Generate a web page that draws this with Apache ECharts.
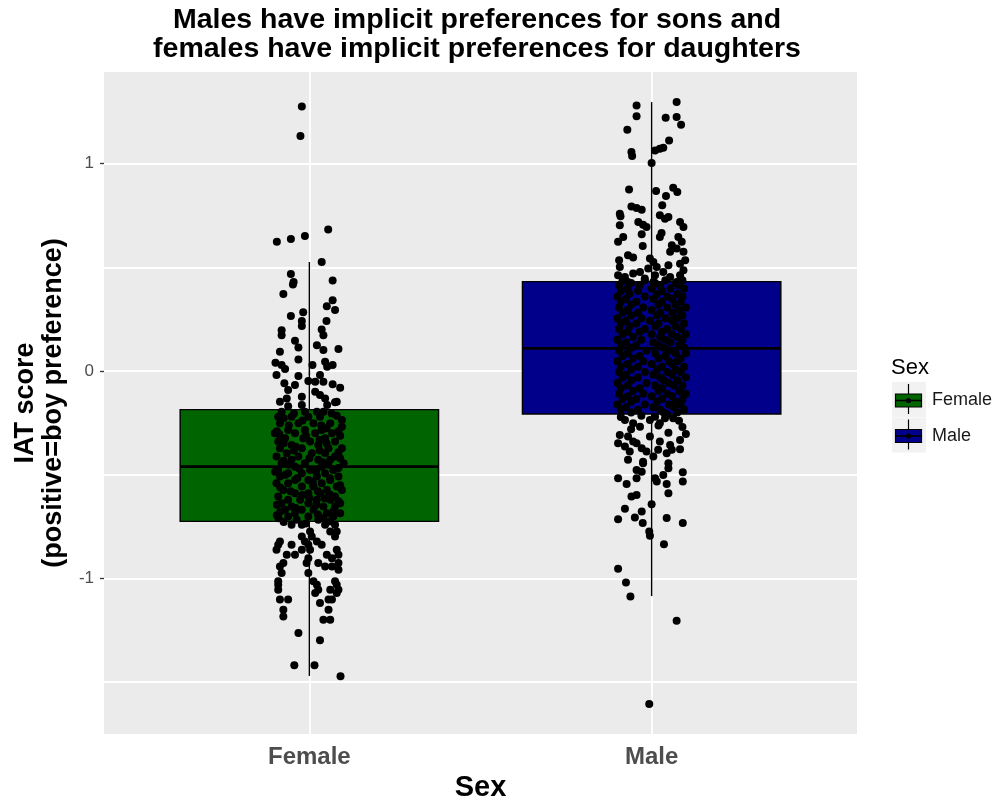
<!DOCTYPE html>
<html><head><meta charset="utf-8">
<script src="https://cdn.jsdelivr.net/npm/echarts@6/dist/echarts.min.js"></script>
<style>html,body{margin:0;padding:0;background:#fff}#c{width:1000px;height:802px}</style>
</head><body><div id="c"></div>
<script>
const categories = ['Female', 'Male'];
const boxColors = ['#006400', '#00008B'];
const yTicks = [-1, 0, 1];
const xTicks = [1, 2];
// low whisker, Q1, median, Q3, high whisker
const femaleBox = [-1.47, -0.725, -0.461, -0.186, 0.526];
const maleBox = [-1.085, -0.207, 0.109, 0.431, 1.297];
// [jitter offset, IAT score]
const femalePoints = [
[-0.022,1.276],[-0.026,1.133],[-0.095,0.623],[-0.054,0.637],[-0.013,0.651],[0.055,0.682],[0.036,0.526],[-0.054,0.468],[-0.046,0.430],[-0.048,0.417],[0.068,0.437],[-0.076,0.372],[0.068,0.342],[0.051,0.313],[0.075,0.294],[-0.018,0.284],[-0.054,0.266],[-0.022,0.241],[-0.022,0.217],[0.050,0.241],[-0.081,0.197],[-0.081,0.173],[0.036,0.201],[0.041,0.173],[-0.042,0.146],[-0.032,0.114],[0.022,0.125],[0.041,0.101],[0.085,0.106],[-0.086,0.093],[-0.032,0.056],[-0.099,0.040],[-0.081,0.029],[-0.071,0.010],[0.009,0.029],[0.046,0.045],[0.052,0.021],[0.068,0.029],[-0.096,-0.019],[-0.032,-0.024],[-0.003,-0.048],[0.017,-0.052],[0.031,-0.019],[0.041,-0.052],[-0.073,-0.059],[-0.042,-0.067],[0.068,-0.064],[0.090,-0.080],[-0.062,-0.091],[0.017,-0.100],[0.031,-0.116],[-0.086,-0.148],[-0.022,-0.124],[0.046,-0.132],[0.080,-0.148],[-0.066,-0.132],[-0.022,-0.164],[0.052,-0.164],
[0.075,-0.150],[-0.062,-0.170],
[-0.081,-0.196],[-0.013,-0.196],[0.022,-0.196],[0.041,-0.196],
[-0.045,-0.205],[0.065,-0.205],
[-0.091,-0.220],[-0.052,-0.220],[-0.003,-0.220],[0.031,-0.220],
[0.095,-0.236],
[-0.086,-0.252],[-0.032,-0.252],[0.012,-0.252],[0.061,-0.252],
[-0.060,-0.262],[0.035,-0.262],
[0.095,-0.268],
[-0.062,-0.284],[-0.013,-0.284],[0.036,-0.284],
[0.085,-0.290],[-0.095,-0.290],
[-0.101,-0.300],[-0.042,-0.300],[0.017,-0.300],[0.066,-0.300],
[-0.010,-0.312],[0.090,-0.312],
[-0.071,-0.324],[-0.018,-0.324],[0.046,-0.324],
[-0.091,-0.340],[0.002,-0.340],[0.075,-0.340],
[0.050,-0.348],[-0.075,-0.348],
[-0.052,-0.356],[0.026,-0.356],
[-0.086,-0.372],[-0.022,-0.372],[0.056,-0.372],[0.095,-0.372],
[-0.045,-0.383],[0.030,-0.383],
[-0.066,-0.396],[0.007,-0.396],[0.046,-0.396],
[-0.096,-0.412],[-0.032,-0.412],[0.075,-0.412],
[0.000,-0.420],[0.090,-0.420],
[-0.052,-0.428],[0.026,-0.428],[0.061,-0.428],
[-0.081,-0.445],[-0.013,-0.445],[0.100,-0.445],
[-0.060,-0.452],[0.055,-0.452],
[-0.042,-0.461],[0.036,-0.461],
[-0.091,-0.477],[0.002,-0.477],[0.070,-0.477],
[0.020,-0.485],[-0.100,-0.485],
[-0.062,-0.493],[-0.022,-0.493],[0.046,-0.493],
[-0.086,-0.509],[0.022,-0.509],[0.085,-0.509],
[-0.035,-0.517],[0.060,-0.517],
[-0.042,-0.525],[-0.003,-0.525],[0.061,-0.525],
[-0.096,-0.541],[-0.062,-0.541],[0.036,-0.541],
[0.010,-0.550],[0.090,-0.550],
[-0.022,-0.557],[0.012,-0.557],[0.080,-0.557],
[-0.076,-0.573],[0.051,-0.573],[0.095,-0.573],
[-0.055,-0.580],[0.025,-0.580],
[-0.042,-0.589],[-0.003,-0.589],[0.031,-0.589],
[-0.091,-0.605],[0.075,-0.605],
[0.000,-0.613],[0.045,-0.613],
[-0.062,-0.621],[-0.027,-0.621],[0.022,-0.621],[0.061,-0.621],
[-0.081,-0.637],[-0.003,-0.637],[0.090,-0.637],
[-0.095,-0.645],[0.020,-0.645],
[-0.052,-0.653],[0.041,-0.653],[0.075,-0.653],
[-0.071,-0.669],[-0.022,-0.669],[0.012,-0.669],
[0.070,-0.677],[-0.085,-0.677],
[-0.042,-0.685],[0.051,-0.685],[0.090,-0.685],
[-0.062,-0.701],[-0.003,-0.701],[0.070,-0.701],
[0.040,-0.710],[-0.090,-0.710],
[-0.037,-0.717],[0.026,-0.717],
[-0.075,-0.228],[0.080,-0.215],[-0.020,-0.238],[0.050,-0.276],[-0.088,-0.305],[0.030,-0.332],[-0.040,-0.365],[0.085,-0.392],[-0.075,-0.432],[0.040,-0.440],[-0.030,-0.470],[0.085,-0.468],[-0.070,-0.500],[0.010,-0.533],[-0.085,-0.562],[0.060,-0.595],[-0.020,-0.598],[0.085,-0.628],[-0.040,-0.660],[0.025,-0.692],[-0.095,-0.695],[0.060,-0.725],[-0.075,-0.728],[-0.010,-0.735],
[-0.052,-0.741],[-0.022,-0.741],[0.046,-0.741],[0.075,-0.741],
[0.002,-0.773],[0.061,-0.773],[0.080,-0.773],
[-0.022,-0.798],[0.007,-0.798],[0.075,-0.798],
[-0.086,-0.822],[-0.013,-0.822],[0.022,-0.822],
[-0.091,-0.838],[-0.052,-0.838],[-0.003,-0.838],[0.036,-0.838],
[-0.096,-0.862],[-0.022,-0.862],[0.002,-0.862],[0.080,-0.862],
[-0.066,-0.886],[-0.042,-0.886],[0.051,-0.886],[0.085,-0.886],
[-0.003,-0.902],[0.066,-0.902],
[-0.076,-0.926],[-0.008,-0.926],[0.026,-0.926],[0.085,-0.926],
[-0.086,-0.942],[0.046,-0.942],[0.066,-0.942],
[0.085,-0.958],
[-0.081,-0.974],[-0.003,-0.974],
[-0.091,-1.014],[0.012,-1.014],[0.075,-1.014],
[-0.091,-1.030],[0.022,-1.030],[0.080,-1.030],
[-0.091,-1.054],[0.026,-1.054],[0.061,-1.054],[0.085,-1.054],
[0.017,-1.070],[0.080,-1.070],
[-0.086,-1.102],[-0.062,-1.102],[0.056,-1.102],[0.066,-1.102],
[0.031,-1.118],
[-0.076,-1.151],[0.056,-1.151],
[-0.076,-1.183],
[0.041,-1.199],[0.061,-1.199],
[-0.032,-1.263],
[0.031,-1.298],
[-0.044,-1.419],[0.015,-1.419],
[0.091,-1.472]
];
const malePoints = [
[-0.044,1.281],[0.073,1.297],[-0.044,1.229],[0.041,1.221],[0.073,1.225],[0.086,1.188],[-0.071,1.164],[0.051,1.112],[-0.059,1.056],[-0.057,1.037],[0.010,1.064],[0.024,1.072],[0.034,1.077],[0.000,1.003],
[-0.066,0.876],[0.013,0.868],[0.042,0.844],[0.063,0.884],[0.075,0.863],[0.031,0.799],[-0.059,0.794],[-0.044,0.786],[-0.029,0.778],[-0.093,0.759],[-0.091,0.746],[0.024,0.751],[0.039,0.735],[0.049,0.743],[-0.093,0.703],[-0.039,0.719],[-0.025,0.706],[-0.015,0.695],[0.083,0.719],[0.093,0.695],[-0.083,0.647],[-0.029,0.660],[0.024,0.647],[0.029,0.666],[0.078,0.647],[0.088,0.623],[0.059,0.607],[0.073,0.591],[0.054,0.575],[0.093,0.575],[-0.098,0.623],[-0.026,0.603],[-0.069,0.559],[-0.054,0.547],[-0.095,0.534],[-0.093,0.502],[-0.005,0.543],[0.005,0.526],[-0.010,0.494],[0.015,0.502],[0.049,0.510],[0.083,0.518],[0.098,0.534],[-0.098,0.462],[-0.078,0.454],[-0.054,0.470],[-0.034,0.478],[-0.020,0.446],[0.010,0.462],[0.034,0.478],[0.054,0.454],[0.083,0.462],[0.093,0.486],[-0.069,0.430],[0.005,0.430],[0.073,0.430],
[-0.085,0.438],[-0.020,0.438],[0.040,0.438],[0.090,0.438],
[-0.060,0.425],[0.010,0.425],[0.070,0.425],
[-0.095,0.412],[-0.035,0.412],[0.025,0.412],[0.080,0.412],
[-0.070,0.398],[0.000,0.398],[0.055,0.398],[0.095,0.398],
[-0.090,0.386],[-0.040,0.386],[0.030,0.386],
[-0.065,0.372],[0.015,0.372],[0.075,0.372],
[-0.100,0.360],[-0.020,0.360],[0.045,0.360],[0.090,0.360],
[-0.075,0.347],[0.005,0.347],[0.060,0.347],
[-0.090,0.334],[-0.045,0.334],[0.030,0.334],[0.085,0.334],
[-0.060,0.320],[0.020,0.320],[0.070,0.320],
[-0.095,0.307],[-0.025,0.307],[0.045,0.307],[0.100,0.307],
[-0.070,0.294],[0.000,0.294],[0.080,0.294],
[-0.085,0.281],[-0.040,0.281],[0.025,0.281],[0.060,0.281],
[-0.060,0.268],[0.015,0.268],[0.090,0.268],
[-0.100,0.255],[-0.030,0.255],[0.040,0.255],[0.075,0.255],
[-0.075,0.242],[-0.005,0.242],[0.060,0.242],
[-0.090,0.229],[-0.045,0.229],[0.020,0.229],[0.095,0.229],
[-0.065,0.216],[0.010,0.216],[0.070,0.216],
[-0.095,0.203],[-0.020,0.203],[0.045,0.203],[0.085,0.203],
[-0.070,0.190],[-0.035,0.190],[0.030,0.190],
[-0.085,0.177],[0.000,0.177],[0.060,0.177],[0.100,0.177],
[-0.055,0.164],[0.025,0.164],[0.075,0.164],
[-0.100,0.151],[-0.030,0.151],[0.040,0.151],[0.090,0.151],
[-0.075,0.138],[0.005,0.138],[0.055,0.138],
[-0.090,0.125],[-0.045,0.125],[0.020,0.125],[0.080,0.125],
[-0.060,0.112],[0.035,0.112],[0.095,0.112],
[-0.095,0.099],[-0.015,0.099],[0.050,0.099],
[-0.070,0.086],[0.010,0.086],[0.070,0.086],[0.100,0.086],
[-0.085,0.073],[-0.035,0.073],[0.040,0.073],
[-0.055,0.060],[0.020,0.060],[0.085,0.060],
[-0.100,0.047],[-0.025,0.047],[0.050,0.047],[0.075,0.047],
[-0.070,0.034],[0.000,0.034],[0.060,0.034],
[-0.090,0.021],[-0.040,0.021],[0.030,0.021],[0.095,0.021],
[-0.060,0.008],[0.015,0.008],[0.070,0.008],
[-0.095,-0.005],[-0.020,-0.005],[0.045,-0.005],[0.085,-0.005],
[-0.075,-0.018],[0.005,-0.018],[0.060,-0.018],
[-0.085,-0.031],[-0.040,-0.031],[0.025,-0.031],[0.100,-0.031],
[-0.060,-0.044],[0.035,-0.044],[0.075,-0.044],
[-0.100,-0.057],[-0.015,-0.057],[0.050,-0.057],
[-0.070,-0.070],[0.010,-0.070],[0.065,-0.070],[0.090,-0.070],
[-0.090,-0.083],[-0.035,-0.083],[0.030,-0.083],
[-0.055,-0.096],[0.020,-0.096],[0.080,-0.096],
[-0.095,-0.109],[-0.025,-0.109],[0.045,-0.109],[0.100,-0.109],
[-0.070,-0.122],[0.000,-0.122],[0.060,-0.122],
[-0.085,-0.135],[-0.045,-0.135],[0.030,-0.135],[0.090,-0.135],
[-0.060,-0.148],[0.015,-0.148],[0.070,-0.148],
[-0.100,-0.161],[-0.020,-0.161],[0.050,-0.161],[0.085,-0.161],
[-0.075,-0.174],[0.005,-0.174],[0.065,-0.174],
[-0.090,-0.187],[-0.040,-0.187],[0.025,-0.187],[0.095,-0.187],
[-0.060,-0.200],[0.035,-0.200],[0.075,-0.200],
[-0.030,-0.215],[0.045,-0.210],[-0.090,-0.222],[0.080,-0.240],[0.020,-0.262],[-0.060,-0.280],[0.090,-0.270],
[-0.078,-0.236],[-0.054,-0.252],[-0.034,-0.268],[-0.005,-0.236],[0.010,-0.220],[0.024,-0.252],[0.039,-0.228],[0.063,-0.228],[-0.093,-0.308],[-0.069,-0.316],[-0.054,-0.340],[-0.098,-0.348],[-0.078,-0.364],[-0.064,-0.388],[-0.044,-0.348],[-0.029,-0.372],[-0.015,-0.388],[-0.005,-0.316],[0.049,-0.297],[0.083,-0.332],[0.100,-0.303],[0.024,-0.340],[0.054,-0.356],[0.019,-0.380],[0.044,-0.396],[0.059,-0.380],[0.083,-0.377],[-0.069,-0.428],[-0.025,-0.437],[0.005,-0.412],[0.049,-0.445],[-0.044,-0.477],[-0.029,-0.485],[-0.025,-0.445],[0.049,-0.469],[0.034,-0.501],[0.091,-0.488],[0.091,-0.533],[-0.098,-0.517],[-0.073,-0.544],[-0.044,-0.517],[0.010,-0.517],[0.015,-0.533],[0.044,-0.544],[-0.059,-0.605],[-0.044,-0.597],[0.049,-0.589],[0.000,-0.642],[-0.078,-0.664],[-0.098,-0.714],[-0.049,-0.706],[-0.029,-0.677],[-0.026,-0.733],[0.044,-0.709],[0.091,-0.733],[-0.007,-0.774],[-0.005,-0.794],[0.036,-0.835],[-0.098,-0.953],[-0.075,-1.019],[-0.062,-1.087],[0.073,-1.204],[-0.007,-1.605]
];

const FONT = "'Liberation Sans', Arial, sans-serif";
const BOX_WIDTH = 0.755;
const chart = echarts.init(document.getElementById('c'), null, {renderer: 'canvas'});

function toXY(points, pos) { return points.map(p => [pos + p[0], p[1]]); }

const legendItems = [];
categories.forEach((name, i) => {
  const top = 382 + i * 35.5;
  const cx = 908.5;
  legendItems.push(
    {type: 'rect', shape: {x: 892, y: top, width: 34, height: 35}, style: {fill: '#F2F2F2'}},
    {type: 'line', shape: {x1: cx, y1: top + 2, x2: cx, y2: top + 32}, style: {stroke: '#000', lineWidth: 1.2}},
    {type: 'rect', shape: {x: 895.5, y: top + 12, width: 26, height: 13}, style: {fill: boxColors[i], stroke: '#000', lineWidth: 1.2}},
    {type: 'line', shape: {x1: 895.5, y1: top + 18.5, x2: 921.5, y2: top + 18.5}, style: {stroke: '#000', lineWidth: 1.6}},
    {type: 'circle', shape: {cx: cx, cy: top + 18.5, r: 2.6}, style: {fill: '#000'}},
    {type: 'text', x: 932, y: top + 18.5, style: {text: name, fill: '#1a1a1a', font: '18px ' + FONT, textVerticalAlign: 'middle'}}
  );
});

const option = {
  animation: false,
  backgroundColor: '#ffffff',
  title: {
    text: 'Males have implicit preferences for sons and\nfemales have implicit preferences for daughters',
    left: 472, top: 1, textAlign: 'center',
    textStyle: {fontFamily: FONT, fontWeight: 'bold', fontSize: 28.5, lineHeight: 29, color: '#000'}
  },
  grid: {left: 104, top: 72, width: 753, height: 662, show: true, backgroundColor: '#EBEBEB', borderWidth: 0,
    containLabel: false, outerBoundsMode: 'none'},
  xAxis: {
    type: 'value', min: 0.4, max: 2.6, minInterval: 1, maxInterval: 1,
    name: 'Sex', nameLocation: 'middle', nameGap: 38,
    nameTextStyle: {fontFamily: FONT, fontWeight: 'bold', fontSize: 29, color: '#000'},
    axisLine: {show: false},
    axisTick: {show: true, length: 4, customValues: xTicks, lineStyle: {color: '#333', width: 1.3}},
    axisLabel: {customValues: xTicks, margin: 11, formatter: v => categories[Math.round(v) - 1] || '',
      fontFamily: FONT, fontWeight: 'bold', fontSize: 24, color: '#4d4d4d'},
    splitLine: {show: true, lineStyle: {color: '#ffffff', width: 1.8}}
  },
  yAxis: {
    type: 'value', min: -1.75, max: 1.442, minInterval: 1, maxInterval: 1,
    name: 'IAT score\n(positive=boy preference)', nameLocation: 'middle', nameRotate: 90, nameGap: 28,
    nameTextStyle: {fontFamily: FONT, fontWeight: 'bold', fontSize: 27, lineHeight: 28, color: '#000'},
    axisLine: {show: false},
    axisTick: {show: true, length: 4, customValues: yTicks, lineStyle: {color: '#333', width: 1.3}},
    axisLabel: {customValues: yTicks, margin: 10, fontFamily: FONT, fontSize: 17, color: '#4d4d4d'},
    splitLine: {show: true, lineStyle: {color: '#ffffff', width: 1.8}},
    minorTick: {show: false, splitNumber: 2},
    minorSplitLine: {show: true, lineStyle: {color: '#ffffff', width: 1.8}}
  },
  series: [
    {
      type: 'custom', name: 'boxes', z: 2,
      data: [[1].concat(femaleBox), [2].concat(maleBox)],
      encode: {x: 0, y: [1, 2, 3, 4, 5]},
      renderItem: function (params, api) {
        const x = api.value(0);
        const lo = api.coord([x, api.value(1)]);
        const q1 = api.coord([x, api.value(2)]);
        const md = api.coord([x, api.value(3)]);
        const q3 = api.coord([x, api.value(4)]);
        const hi = api.coord([x, api.value(5)]);
        const half = api.size([BOX_WIDTH, 0])[0] / 2;
        const color = boxColors[params.dataIndex];
        return {type: 'group', children: [
          {type: 'line', shape: {x1: lo[0], y1: lo[1], x2: q1[0], y2: q1[1]}, style: {stroke: '#000', lineWidth: 1.4}},
          {type: 'line', shape: {x1: q3[0], y1: q3[1], x2: hi[0], y2: hi[1]}, style: {stroke: '#000', lineWidth: 1.4}},
          {type: 'rect', shape: {x: q1[0] - half, y: q3[1], width: half * 2, height: q1[1] - q3[1]}, style: {fill: color, stroke: '#000', lineWidth: 1.4}},
          {type: 'line', shape: {x1: md[0] - half, y1: md[1], x2: md[0] + half, y2: md[1]}, style: {stroke: '#000', lineWidth: 2.8}}
        ]};
      }
    },
    {type: 'scatter', name: 'Female', z: 3, symbolSize: 8, itemStyle: {color: '#000', opacity: 1}, data: toXY(femalePoints, 1), silent: true},
    {type: 'scatter', name: 'Male', z: 3, symbolSize: 8, itemStyle: {color: '#000', opacity: 1}, data: toXY(malePoints, 2), silent: true}
  ],
  graphic: [
    {type: 'text', left: 891, top: 357, style: {text: 'Sex', fill: '#000', font: '22px ' + FONT}},
    {type: 'group', children: legendItems}
  ]
};
chart.setOption(option);
</script>
</body></html>
